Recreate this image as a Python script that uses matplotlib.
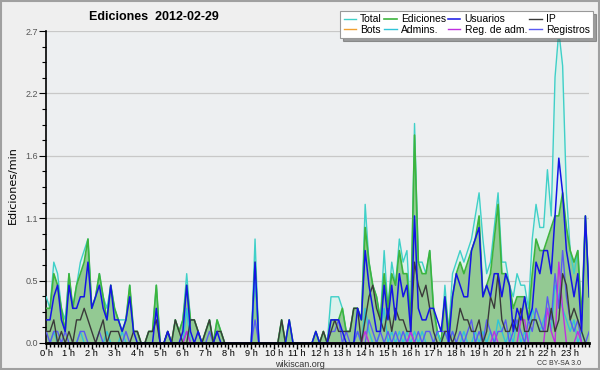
import numpy as np
import matplotlib.pyplot as plt
from matplotlib.ticker import AutoMinorLocator, MultipleLocator

# values per 10 minutes (edits/min), one row of 6 per hour
total = [0.4, 0.3, 0.7, 0.6, 0.3, 0.2,  0.6, 0.3, 0.5, 0.7, 0.8, 0.9,
         0.3, 0.4, 0.6, 0.4, 0.3, 0.5,  0.3, 0.2, 0.2, 0.2, 0.5, 0.1,
         0.1, 0.0, 0.0, 0.1, 0.1, 0.5,  0.0, 0.0, 0.1, 0.0, 0.2, 0.1,
         0.2, 0.6, 0.2, 0.2, 0.1, 0.0,  0.1, 0.2, 0.0, 0.2, 0.1, 0.0,
         0.0, 0.0, 0.0, 0.0, 0.0, 0.0,  0.0, 0.9, 0.0, 0.0, 0.0, 0.0,
         0.0, 0.0, 0.2, 0.0, 0.2, 0.0,  0.0, 0.0, 0.0, 0.0, 0.0, 0.1,
         0.0, 0.1, 0.0, 0.4, 0.4, 0.4,  0.3, 0.1, 0.1, 0.3, 0.3, 0.2,
         1.2, 0.7, 0.5, 0.4, 0.2, 0.8,  0.3, 0.7, 0.5, 0.9, 0.7, 0.8,
         0.2, 1.9, 0.7, 0.7, 0.6, 0.8,  0.3, 0.1, 0.0, 0.5, 0.1, 0.6,
         0.7, 0.8, 0.7, 0.8, 0.9, 1.1,  1.3, 0.9, 0.6, 0.7, 1.0, 1.3,
         0.7, 0.7, 0.5, 0.4, 0.6, 0.5,  0.5, 0.3, 0.9, 1.2, 1.0, 1.0,
         1.5, 1.1, 2.3, 2.7, 2.4, 1.3,  0.8, 0.6, 0.8, 0.2, 1.1, 0.4]

ediciones = [0.3, 0.3, 0.6, 0.5, 0.3, 0.1,  0.6, 0.3, 0.5, 0.6, 0.7, 0.9,
             0.3, 0.4, 0.6, 0.4, 0.2, 0.5,  0.3, 0.2, 0.1, 0.2, 0.5, 0.1,
             0.1, 0.0, 0.0, 0.1, 0.1, 0.5,  0.0, 0.0, 0.1, 0.0, 0.2, 0.1,
             0.2, 0.5, 0.2, 0.2, 0.1, 0.0,  0.1, 0.2, 0.0, 0.2, 0.1, 0.0,
             0.0, 0.0, 0.0, 0.0, 0.0, 0.0,  0.0, 0.7, 0.0, 0.0, 0.0, 0.0,
             0.0, 0.0, 0.2, 0.0, 0.2, 0.0,  0.0, 0.0, 0.0, 0.0, 0.0, 0.1,
             0.0, 0.1, 0.0, 0.2, 0.2, 0.2,  0.3, 0.1, 0.1, 0.3, 0.3, 0.2,
             1.0, 0.7, 0.5, 0.4, 0.2, 0.6,  0.3, 0.6, 0.5, 0.8, 0.6, 0.6,
             0.2, 1.8, 0.7, 0.6, 0.6, 0.8,  0.3, 0.1, 0.0, 0.4, 0.1, 0.4,
             0.6, 0.7, 0.6, 0.7, 0.8, 0.9,  1.1, 0.4, 0.5, 0.6, 0.9, 1.2,
             0.6, 0.6, 0.5, 0.3, 0.4, 0.4,  0.4, 0.2, 0.6, 0.9, 0.8, 0.8,
             0.9, 1.0, 1.1, 1.1, 1.3, 1.0,  0.8, 0.7, 0.8, 0.2, 1.1, 0.4]

usuarios = [0.2, 0.2, 0.4, 0.5, 0.2, 0.1,  0.5, 0.3, 0.3, 0.4, 0.4, 0.7,
            0.3, 0.4, 0.5, 0.3, 0.2, 0.5,  0.2, 0.2, 0.1, 0.2, 0.4, 0.1,
            0.0, 0.0, 0.0, 0.0, 0.0, 0.3,  0.0, 0.0, 0.1, 0.0, 0.0, 0.0,
            0.1, 0.5, 0.1, 0.0, 0.1, 0.0,  0.0, 0.0, 0.0, 0.1, 0.0, 0.0,
            0.0, 0.0, 0.0, 0.0, 0.0, 0.0,  0.0, 0.7, 0.0, 0.0, 0.0, 0.0,
            0.0, 0.0, 0.0, 0.0, 0.2, 0.0,  0.0, 0.0, 0.0, 0.0, 0.0, 0.1,
            0.0, 0.0, 0.0, 0.2, 0.2, 0.2,  0.1, 0.0, 0.0, 0.0, 0.3, 0.2,
            0.8, 0.5, 0.3, 0.1, 0.1, 0.5,  0.2, 0.5, 0.2, 0.6, 0.4, 0.5,
            0.1, 1.1, 0.3, 0.2, 0.2, 0.3,  0.3, 0.2, 0.1, 0.4, 0.0, 0.4,
            0.6, 0.5, 0.4, 0.4, 0.8, 0.9,  1.0, 0.4, 0.5, 0.4, 0.6, 0.6,
            0.4, 0.6, 0.5, 0.1, 0.3, 0.2,  0.4, 0.2, 0.3, 0.7, 0.6, 0.8,
            0.8, 0.6, 1.1, 1.6, 1.3, 0.8,  0.6, 0.4, 0.6, 0.1, 1.1, 0.4]

ip = [0.1, 0.1, 0.2, 0.0, 0.1, 0.0,  0.1, 0.0, 0.2, 0.2, 0.3, 0.2,
      0.1, 0.0, 0.1, 0.2, 0.0, 0.1,  0.1, 0.1, 0.0, 0.0, 0.0, 0.1,
      0.1, 0.0, 0.0, 0.1, 0.1, 0.2,  0.0, 0.0, 0.1, 0.0, 0.2, 0.1,
      0.0, 0.0, 0.2, 0.2, 0.1, 0.0,  0.1, 0.2, 0.0, 0.1, 0.1, 0.0,
      0.0, 0.0, 0.0, 0.0, 0.0, 0.0,  0.0, 0.0, 0.0, 0.0, 0.0, 0.0,
      0.0, 0.0, 0.2, 0.0, 0.0, 0.0,  0.0, 0.0, 0.0, 0.0, 0.0, 0.0,
      0.0, 0.1, 0.0, 0.1, 0.2, 0.1,  0.1, 0.1, 0.1, 0.3, 0.3, 0.0,
      0.2, 0.4, 0.5, 0.3, 0.2, 0.1,  0.3, 0.1, 0.3, 0.2, 0.2, 0.1,
      0.1, 0.7, 0.5, 0.4, 0.5, 0.3,  0.1, 0.0, 0.0, 0.1, 0.1, 0.0,
      0.1, 0.3, 0.2, 0.2, 0.1, 0.1,  0.2, 0.0, 0.1, 0.4, 0.3, 0.6,
      0.2, 0.1, 0.1, 0.2, 0.1, 0.3,  0.1, 0.1, 0.2, 0.2, 0.1, 0.1,
      0.1, 0.3, 0.1, 0.2, 0.6, 0.5,  0.2, 0.3, 0.2, 0.1, 0.0, 0.0]

bots = [0.0] * 144

admins = [0.0, 0.0, 0.1, 0.0, 0.0, 0.0,  0.0, 0.0, 0.0, 0.1, 0.0, 0.0,
          0.0, 0.0, 0.0, 0.0, 0.1, 0.0,  0.0, 0.0, 0.1, 0.0, 0.0, 0.0,
          0.0, 0.0, 0.0, 0.0, 0.0, 0.0,  0.0, 0.0, 0.0, 0.0, 0.0, 0.0,
          0.0, 0.3, 0.0, 0.0, 0.0, 0.0,  0.0, 0.0, 0.0, 0.0, 0.0, 0.0,
          0.0, 0.0, 0.0, 0.0, 0.0, 0.0,  0.0, 0.6, 0.0, 0.0, 0.0, 0.0,
          0.0, 0.0, 0.0, 0.0, 0.0, 0.0,  0.0, 0.0, 0.0, 0.0, 0.0, 0.0,
          0.0, 0.0, 0.0, 0.0, 0.0, 0.0,  0.0, 0.0, 0.0, 0.0, 0.1, 0.0,
          0.3, 0.1, 0.0, 0.0, 0.1, 0.3,  0.0, 0.1, 0.0, 0.1, 0.0, 0.1,
          0.0, 0.1, 0.0, 0.1, 0.0, 0.0,  0.0, 0.1, 0.0, 0.1, 0.0, 0.1,
          0.0, 0.0, 0.1, 0.0, 0.0, 0.1,  0.0, 0.1, 0.0, 0.1, 0.0, 0.2,
          0.1, 0.0, 0.1, 0.0, 0.2, 0.0,  0.1, 0.0, 0.3, 0.2, 0.1, 0.2,
          0.3, 0.1, 0.5, 0.4, 0.3, 0.2,  0.1, 0.2, 0.0, 0.1, 0.0, 0.0]

reg_adm = [0.0] * 37 + [0.1] + [0.0] * 46 + [0.1] + [0.0] * 11 + [0.1] + [0.0] * 21 \
    + [0.1] + [0.0] * 6 + [0.2, 0.2] + [0.0] * 5 + [0.3, 0.1, 0.0, 0.7, 0.3, 0.0] \
    + [0.0, 0.0, 0.1, 0.0, 0.0, 0.0]

registros = [0.1, 0.0, 0.1, 0.1, 0.0, 0.1,  0.0, 0.0, 0.0, 0.1, 0.1, 0.0,
             0.0, 0.0, 0.1, 0.0, 0.0, 0.0,  0.0, 0.0, 0.0, 0.1, 0.0, 0.0,
             0.0, 0.0, 0.0, 0.0, 0.0, 0.0,  0.0, 0.0, 0.0, 0.0, 0.0, 0.0,
             0.0, 0.1, 0.0, 0.0, 0.0, 0.0,  0.0, 0.1, 0.0, 0.0, 0.0, 0.0,
             0.0, 0.0, 0.0, 0.0, 0.0, 0.0,  0.0, 0.2, 0.0, 0.0, 0.0, 0.0,
             0.0, 0.0, 0.0, 0.0, 0.0, 0.0,  0.0, 0.0, 0.0, 0.0, 0.0, 0.0,
             0.0, 0.0, 0.0, 0.1, 0.1, 0.2,  0.0, 0.1, 0.0, 0.0, 0.1, 0.0,
             0.0, 0.2, 0.1, 0.0, 0.1, 0.0,  0.1, 0.0, 0.1, 0.0, 0.1, 0.0,
             0.1, 0.0, 0.1, 0.0, 0.1, 0.1,  0.0, 0.1, 0.1, 0.1, 0.0, 0.1,
             0.0, 0.1, 0.0, 0.1, 0.2, 0.0,  0.1, 0.0, 0.2, 0.1, 0.0, 0.1,
             0.1, 0.2, 0.0, 0.1, 0.2, 0.1,  0.0, 0.2, 0.1, 0.3, 0.2, 0.1,
             0.4, 0.2, 0.6, 0.3, 0.8, 0.4,  0.2, 0.1, 0.2, 0.0, 0.0, 0.1]

hours = list(range(24))
hour_labels = ['%d h' % h for h in hours]

t = np.arange(len(total)) / 6.0

plt.rcParams['font.family'] = ['Liberation Sans', 'DejaVu Sans']

fig = plt.figure(figsize=(6, 3.7), dpi=100, facecolor='#efefef')
ax = fig.add_axes([0.077, 0.073, 0.905, 0.843])
ax.set_facecolor('#edeff1')

# filled series
ax.fill_between(t, total, color='#dcf1ec', lw=0, zorder=1)
ax.fill_between(t, ediciones, color='#93c993', lw=0, zorder=2)
ax.plot(t, bots, color='#f0a030', lw=1, zorder=2, label='Bots')
ax.plot(t, total, color='#3fd0c8', lw=1, zorder=3, label='Total')
ax.plot(t, ediciones, color='#3db43d', lw=1.2, zorder=3, label='Ediciones')
ax.plot(t, admins, color='#30c4d8', lw=1, zorder=4, label='Admins.')
ax.plot(t, registros, color='#5a5af2', lw=1, zorder=4, label='Registros')
ax.plot(t, reg_adm, color='#c030e0', lw=1, zorder=4, label='Reg. de adm.')
ax.plot(t, ip, color='#3a3a3a', lw=1, zorder=5, label='IP')
ax.plot(t, usuarios, color='#1414e6', lw=1.1, zorder=6, label='Usuarios')

ax.set_xlim(0, t[-1])
ax.set_ylim(0, 2.7)
yt = np.linspace(0, 2.7, 6)
ax.set_yticks(yt)
ax.set_yticklabels(['%.1f' % v for v in yt], fontsize=6.5, color='#555555')
ax.yaxis.set_minor_locator(AutoMinorLocator(4))
ax.set_xticks(hours)
ax.set_xticklabels(hour_labels, fontsize=6.7)
ax.xaxis.set_minor_locator(MultipleLocator(1 / 6))
ax.tick_params(axis='x', which='major', length=4, width=1, pad=0.5)
ax.tick_params(axis='x', which='minor', length=3, width=1)
ax.tick_params(axis='y', which='major', length=5, width=0.8, pad=1)
ax.tick_params(axis='y', which='minor', length=3, width=0.8)
ax.grid(axis='y', color='#c8c8c8', lw=0.9)
ax.set_axisbelow(True)
for s in ['top', 'right']:
    ax.spines[s].set_visible(False)
ax.spines['bottom'].set_linewidth(2)
ax.spines['left'].set_linewidth(1.2)
ax.spines['bottom'].set_zorder(10)

fig.text(0.021, 0.5, 'Ediciones/min', fontsize=8, rotation=90,
         family=['DejaVu Sans'], ha='center', va='center')
fig.text(0.257, 0.955, 'Ediciones  2012-02-29', fontsize=9, fontweight='bold',
         ha='center', va='center')

# legend order fills column-wise
h, l = ax.get_legend_handles_labels()
d = dict(zip(l, h))
order = ['Total', 'Bots', 'Ediciones', 'Admins.', 'Usuarios', 'Reg. de adm.', 'IP', 'Registros']
leg = ax.legend([d[k] for k in order], order, ncol=4, loc='upper right',
                bbox_to_anchor=(0.988, 0.97), bbox_transform=fig.transFigure,
                fontsize=7.5, frameon=True, fancybox=False, shadow=True,
                handlelength=1.2, handletextpad=0.4, columnspacing=0.2,
                labelspacing=0.05, borderpad=0.3, borderaxespad=0)
leg.get_frame().set_edgecolor('#999999')
leg.get_frame().set_linewidth(0.8)
leg.set_zorder(20)

fig.text(0.5, 0.016, 'wikiscan.org', fontsize=6.5, color='#333333', ha='center', va='center')
fig.text(0.968, 0.018, 'CC BY-SA 3.0', fontsize=5, color='#333333', ha='right', va='center')

# outer border
fig.patches.append(plt.Rectangle((0.001, 0.002), 0.997, 0.995, transform=fig.transFigure,
                                 fill=False, edgecolor='#a0a0a0', lw=1.5))

fig.savefig('out.png', dpi=100, facecolor=fig.get_facecolor())
